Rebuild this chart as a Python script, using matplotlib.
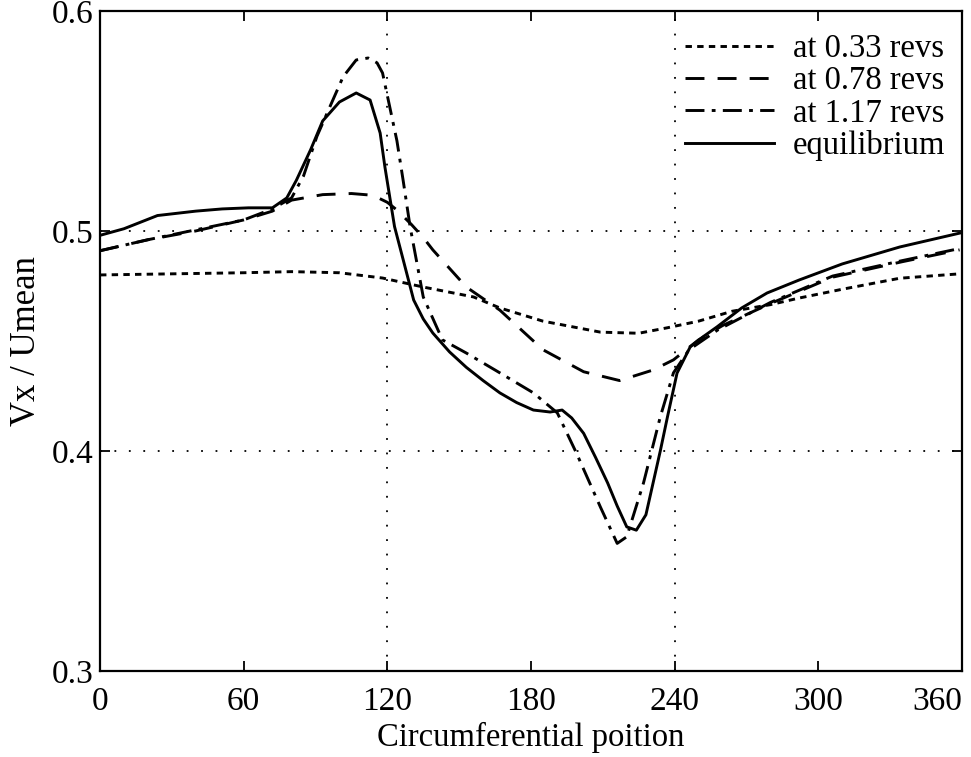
import matplotlib.pyplot as plt
import numpy as np

plt.rcParams['font.family'] = ['Liberation Serif', 'DejaVu Serif']

# at 0.33 revs
x_033 = [0, 30, 60, 80, 100, 118, 135, 156, 167, 185, 209, 225, 237, 250, 264, 280, 292, 310, 334, 359]
y_033 = [0.480, 0.4805, 0.481, 0.4815, 0.481, 0.4786, 0.4745, 0.470, 0.465, 0.459, 0.454, 0.4535,
         0.456, 0.459, 0.4635, 0.4665, 0.4695, 0.4735, 0.4785, 0.4805]

# at 0.78 revs
x_078 = [0, 20, 40, 60, 72, 80, 93, 105, 114, 120, 124, 130, 135, 139, 153, 167, 185, 202, 217,
         231, 239.5, 250, 260, 280, 306, 335, 359]
y_078 = [0.491, 0.496, 0.500, 0.505, 0.509, 0.514, 0.5165, 0.517, 0.5162, 0.513, 0.5095, 0.503,
         0.497, 0.4914, 0.4745, 0.464, 0.446, 0.436, 0.432, 0.4368, 0.4414, 0.4505, 0.457, 0.467,
         0.479, 0.486, 0.4914]

# at 1.17 revs
x_117 = [0, 20, 40, 60, 72, 80, 85, 90.6, 96, 101.5, 107, 112, 115.7, 118, 121, 124, 126.6, 129.5,
         135, 143, 153, 167, 181, 191, 199, 209, 216, 220, 227, 234, 239.5, 246, 258, 280, 306,
         335, 359]
y_117 = [0.491, 0.496, 0.5005, 0.505, 0.510, 0.515, 0.525, 0.543, 0.5564, 0.570, 0.5777, 0.5786,
         0.5764, 0.5718, 0.5564, 0.541, 0.523, 0.502, 0.470, 0.4505, 0.4445, 0.4355, 0.4264,
         0.4173, 0.399, 0.3745, 0.358, 0.361, 0.3855, 0.4155, 0.4355, 0.446, 0.455, 0.4675,
         0.4795, 0.4865, 0.492]

# equilibrium
x_eq = [0, 10, 24, 40, 51, 62, 72, 78, 82, 88, 93, 100, 107, 112.8, 117, 119, 121, 123, 126.6,
        131, 135, 139, 146, 153, 160, 167, 174, 181, 188, 193, 197, 202, 207, 212, 216, 220, 224,
        228, 231, 234, 237, 241, 246.5, 252, 257.7, 268, 278.6, 292, 310, 334, 359]
y_eq = [0.498, 0.501, 0.507, 0.509, 0.510, 0.5105, 0.5105, 0.515, 0.523, 0.537, 0.550, 0.5586,
        0.5627, 0.5595, 0.5445, 0.529, 0.5155, 0.502, 0.487, 0.4686, 0.460, 0.4536, 0.445, 0.438,
        0.432, 0.4264, 0.422, 0.4186, 0.4177, 0.4186, 0.415, 0.408, 0.397, 0.3855, 0.375, 0.3655,
        0.364, 0.371, 0.3855, 0.400, 0.4155, 0.4354, 0.4473, 0.452, 0.4564, 0.465, 0.4718,
        0.4777, 0.485, 0.4927, 0.499]

fig = plt.figure(figsize=(9.71, 7.57), dpi=100)
ax = fig.add_axes([0.103, 0.1136, 0.8877, 0.872])

lw = 2.1
ax.plot(x_033, y_033, color='black', lw=lw, linestyle=(0, (2.2, 1.8)), label='at 0.33 revs')
ax.plot(x_078, y_078, color='black', lw=lw, linestyle=(0, (6.5, 4.5)), label='at 0.78 revs')
ax.plot(x_117, y_117, color='black', lw=lw, linestyle=(0, (6.5, 2.5, 1.3, 2.5)), label='at 1.17 revs')
ax.plot(x_eq, y_eq, color='black', lw=lw, linestyle='-', label='equilibrium')

# dotted grid lines
for gx in [120, 240]:
    ax.axvline(gx, color='black', lw=1.3, linestyle=(0, (1, 7)), zorder=0)
for gy in [0.4, 0.5]:
    ax.axhline(gy, color='black', lw=1.3, linestyle=(0, (1, 7)), zorder=0)

ax.set_xlim(0, 360)
ax.set_ylim(0.3, 0.6)
ax.set_xticks([0, 60, 120, 180, 240, 300, 360])
ax.set_yticks([0.3, 0.4, 0.5, 0.6])
ax.set_yticklabels(['0.3', '0.4', '0.5', '0.6'])
ax.tick_params(direction='in', length=7, width=1.3, top=True, right=True, labelsize=24)
ax.tick_params(axis='x', pad=11)
ax.tick_params(axis='y', pad=5)
ax.get_xticklabels()[-1].set_horizontalalignment('right')
for s in ax.spines.values():
    s.set_linewidth(1.6)

ax.set_xlabel('Circumferential poition', fontsize=23.5, labelpad=4)
ax.set_ylabel('Vx / Umean', fontsize=25, labelpad=6)

ax.legend(loc='upper right', bbox_to_anchor=(1.0, 0.99), frameon=False, fontsize=23.5,
          handlelength=2.7, handletextpad=0.6, labelspacing=0.05, borderaxespad=0.1)

fig.savefig('out.png', dpi=100)
